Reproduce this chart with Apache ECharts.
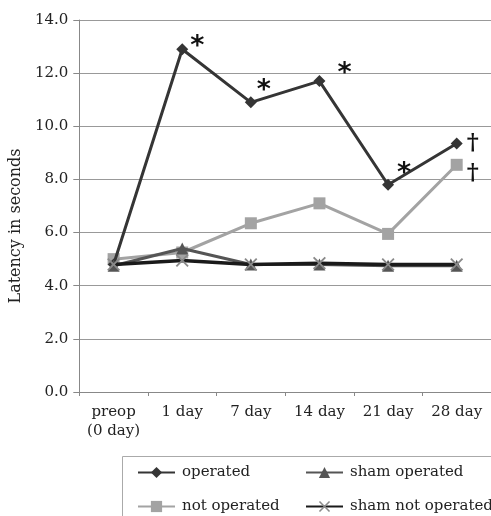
<!DOCTYPE html>
<html>
<head>
<meta charset="utf-8">
<script src="https://cdn.jsdelivr.net/npm/echarts@6/dist/echarts.min.js"></script>
<style>
  html, body { margin: 0; padding: 0; background: #fff; }
  #chart { width: 491px; height: 516px; }
</style>
</head>
<body>
<div id="chart"></div>
<script>
// values
var categories = ['preop\n(0 day)', '1 day', '7 day', '14 day', '21 day', '28 day']
var operated = [4.8, 12.9, 10.9, 11.7, 7.8, 9.35]
var notOperated = [5.0, 5.25, 6.35, 7.1, 5.95, 8.55]
var shamOperated = [4.75, 5.4, 4.8, 4.8, 4.75, 4.75]
var shamNotOperated = [4.8, 4.95, 4.8, 4.85, 4.8, 4.8]
// significance marks next to points
var operatedMarks = ['', '*', '*', '*', '*', '†']
var notOperatedMarks = ['', '', '', '', '', '†']
var yTicks = [0, 2, 4, 6, 8, 10, 12, 14]

var serif = '"DejaVu Serif", "Liberation Serif", serif'
var chart = echarts.init(document.getElementById('chart'))

// label offsets for the marks (layout, not data)
var operatedOffsets = [[0, 0], [-3, -2], [-5, -11], [7, -7], [-2, -11], [-1, -1]]
var notOperatedOffsets = [[0, 0], [0, 0], [0, 0], [0, 0], [0, 0], [-1, 8]]

function withMarks(values, marks, offsets) {
  return values.map(function(v, i) {
    if (!marks[i]) return v
    var star = marks[i] === '*'
    return {
      value: v,
      label: {
        show: true,
        position: 'right',
        formatter: marks[i],
        offset: offsets[i],
        color: '#111',
        fontSize: star ? 27 : 23,
        fontWeight: 'bold',
        fontFamily: star ? '"DejaVu Sans", sans-serif' : serif
      }
    }
  })
}

var xPath = 'path://M0,1L1,0L5,4L9,0L10,1L6,5L10,9L9,10L5,6L1,10L0,9L4,5Z'

var legendBase = {
  top: 465,
  orient: 'vertical',
  padding: 0,
  itemGap: 19,
  itemWidth: 37,
  itemHeight: 14,
  textStyle: { color: '#222', fontFamily: serif, fontSize: 15, padding: [0, 0, 0, 2] }
}

chart.setOption({
  animation: false,
  grid: { left: 74, top: 20, width: 420, height: 372 },
  xAxis: {
    type: 'category',
    data: categories,
    boundaryGap: true,
    axisLine: { lineStyle: { color: '#888', width: 1 } },
    axisTick: { show: true, length: 4, lineStyle: { color: '#888' } },
    axisLabel: {
      color: '#222',
      fontFamily: serif,
      fontSize: 15,
      margin: 11,
      lineHeight: 19,
      interval: 0
    }
  },
  yAxis: {
    type: 'value',
    min: yTicks[0],
    max: yTicks[yTicks.length - 1],
    interval: 2,
    name: 'Latency in seconds',
    nameLocation: 'middle',
    nameGap: 54,
    nameTextStyle: { color: '#222', fontFamily: serif, fontSize: 16, padding: [0, 40, 0, 0] },
    axisLine: { show: true, lineStyle: { color: '#888' } },
    axisTick: { show: true, length: 6, lineStyle: { color: '#888' } },
    axisLabel: {
      color: '#222',
      fontFamily: serif,
      fontSize: 15,
      margin: 11,
      formatter: function(v) { return v.toFixed(1) }
    },
    splitLine: { lineStyle: { color: '#999', width: 1 } }
  },
  legend: [
    Object.assign({ left: 137, data: ['operated', 'not operated'] }, legendBase),
    Object.assign({ left: 305, data: ['sham operated', 'sham not operated'] }, legendBase)
  ],
  graphic: [
    {
      type: 'rect',
      left: 120,
      top: 454,
      shape: { width: 400, height: 90 },
      style: { fill: 'none', stroke: '#aaa', lineWidth: 1 },
      silent: true
    }
  ],
  series: [
    {
      name: 'operated',
      type: 'line',
      data: withMarks(operated, operatedMarks, operatedOffsets),
      symbol: 'diamond',
      symbolSize: 12,
      lineStyle: { color: '#353535', width: 3 },
      itemStyle: { color: '#353535' },
      z: 4
    },
    {
      name: 'not operated',
      type: 'line',
      data: withMarks(notOperated, notOperatedMarks, notOperatedOffsets),
      symbol: 'rect',
      symbolSize: 12,
      lineStyle: { color: '#a3a3a3', width: 3 },
      itemStyle: { color: '#a3a3a3' },
      z: 3
    },
    {
      name: 'sham operated',
      type: 'line',
      data: shamOperated,
      symbol: 'triangle',
      symbolSize: 12,
      lineStyle: { color: '#555', width: 3 },
      itemStyle: { color: '#555' },
      z: 5
    },
    {
      name: 'sham not operated',
      type: 'line',
      data: shamNotOperated,
      symbol: xPath,
      symbolSize: 13,
      lineStyle: { color: '#1a1a1a', width: 3.5 },
      itemStyle: { color: '#8a8a8a' },
      z: 6
    }
  ]
})
</script>
</body>
</html>
